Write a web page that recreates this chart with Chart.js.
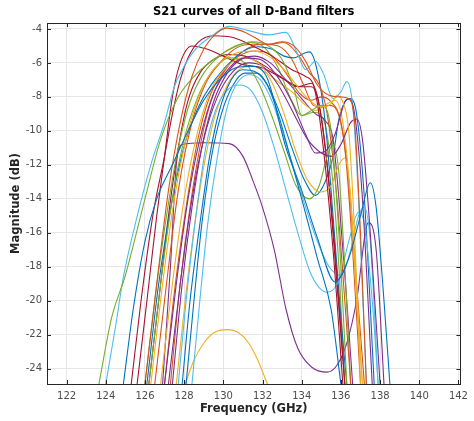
<!DOCTYPE html>
<html>
<head>
<meta charset="utf-8">
<script src="https://cdn.jsdelivr.net/npm/chart.js@4.4.1/dist/chart.umd.min.js"></script>
<style>
  html, body { margin: 0; padding: 0; background: #fff; }
  #wrap { width: 474px; height: 421px; }
</style>
</head>
<body>
<div id="wrap"><canvas id="s21Chart" width="474" height="421"></canvas></div>
<script>
// tick labels
const xTicks = [122, 124, 126, 128, 130, 132, 134, 136, 138, 140, 142];
const yTicks = [-24, -22, -20, -18, -16, -14, -12, -10, -8, -6, -4];

// MATLAB default colour order
const blue = '#0072BD', orange = '#D95319', yellow = '#EDB120', purple = '#7E2F8E',
      green = '#77AC30', lightBlue = '#4DBEEE', darkRed = '#A2142F';

// [frequency GHz, magnitude dB]
const blue1 = [[124.9,-24.9],[125.4,-20.5],[126,-16.5],[126.6,-14],[127.4,-12],[128.2,-10],[129,-8.2],[129.8,-7],[130.6,-6.3],[131.4,-6.2],[132.2,-6.8],[133.2,-11],[134,-13.5],[134.8,-16.3],[135.7,-18.9],[136.4,-17.5],[137,-15],[137.5,-13.05],[137.8,-14.5],[138.2,-20],[138.5,-24.9]];
const orange1 = [[126.0,-24.9],[126.6,-19],[127.2,-13.5],[127.8,-9.5],[128.4,-6.8],[129,-5.2],[129.6,-4.3],[130.2,-3.95],[130.9,-4.1],[131.6,-4.5],[132.3,-4.9],[133,-4.75],[133.6,-5.0],[134.2,-5.9],[134.8,-7.3],[135.4,-7.9],[136,-8.0],[136.4,-8.1],[136.7,-9.5],[137,-16],[137.3,-24.9]];
const yellow1 = [[126.3,-24.9],[126.9,-19],[127.5,-14],[128.2,-10],[129,-7.3],[129.8,-6],[130.7,-5.4],[131.5,-5.3],[132.3,-5.6],[133.1,-6.4],[133.8,-7.4],[134.4,-8.2],[135,-8.6],[135.5,-8.4],[135.8,-7.9],[136.1,-8.3],[136.4,-10],[136.7,-16],[137,-24.9]];
const purple1 = [[127.0,-24.9],[127.6,-19],[128.2,-14],[128.8,-10.5],[129.5,-7.8],[130.3,-6.3],[131.1,-5.7],[131.9,-5.8],[132.7,-6.7],[133.5,-8.3],[134.2,-10.2],[134.7,-11.3],[135.2,-11.2],[135.7,-10.2],[136.2,-8.3],[136.4,-8.1],[136.7,-9],[137.1,-14],[137.6,-24.9]];
const green1 = [[123.65,-24.9],[124.3,-21],[125,-18.5],[126,-14],[126.8,-10.5],[127.7,-8],[128.5,-6.8],[129.5,-5.8],[130.5,-5.1],[131.5,-4.75],[132.3,-5.0],[133,-5.8],[133.6,-7.5],[134,-9.1],[134.5,-8.8],[135,-8.5],[135.5,-10],[136,-18],[136.3,-24.9]];
const lightBlue1 = [[124.0,-24.9],[124.5,-21.5],[124.9,-18.6],[125.5,-15.5],[126.3,-12],[127,-9.5],[127.5,-7.4],[128,-6.2],[128.5,-5.3],[129.3,-4.5],[130.3,-3.85],[131.3,-4.1],[132.3,-4.35],[133.2,-4.2],[133.8,-5.5],[134.2,-6.4],[134.7,-5.9],[135.1,-6.6],[135.6,-8.1],[136,-7.7],[136.3,-7.1],[136.6,-8.5],[136.9,-14],[137.3,-24.9]];
const darkRed1 = [[125.3,-24.9],[125.8,-20],[126.4,-15],[127.0,-11.5],[127.4,-9],[127.8,-7],[128.2,-5.7],[128.7,-4.8],[129.5,-4.4],[130.5,-4.5],[131.5,-5.0],[132.5,-5.6],[133.5,-6.4],[134.2,-6.8],[134.6,-7.3],[135,-10],[135.6,-17],[136.1,-24.9]];
const blue2 = [[127.9,-24.9],[128.3,-20],[128.8,-15.5],[129.3,-11.5],[129.8,-8.8],[130.4,-7],[131,-6.4],[131.6,-6.5],[132.2,-7.2],[132.8,-9],[133.4,-11.5],[134,-14],[134.8,-17.5],[135.5,-20.5],[136,-24.9]];
const orange2 = [[126.5,-24.9],[127.1,-19],[127.7,-13.5],[128.4,-9.5],[129.1,-7.2],[129.9,-5.9],[130.7,-5.1],[131.5,-4.9],[132.3,-4.9],[133.1,-4.8],[133.8,-5.5],[134.4,-6.6],[134.9,-7.3],[135.3,-9],[135.8,-14],[136.2,-20],[136.5,-24.9]];
const yellow2 = [[126.8,-24.9],[127.4,-19],[128.0,-14],[128.7,-10],[129.4,-7.5],[130.2,-6.2],[131,-5.7],[131.8,-6.0],[132.5,-7.2],[133.1,-9],[133.7,-11.2],[134.3,-12.9],[135,-13.6],[135.5,-13.2],[135.9,-12],[136.2,-11.6],[136.5,-14],[136.8,-20],[137.1,-24.9]];
const purple2 = [[127.2,-24.9],[127.8,-19],[128.4,-14],[129,-10.5],[129.7,-8],[130.5,-6.5],[131.3,-6.0],[132,-6.2],[132.8,-7.3],[133.6,-9],[134.3,-10.5],[135,-11.3],[135.5,-11.5],[136,-10.8],[136.5,-9.5],[136.8,-9.3],[137.1,-10.5],[137.5,-16],[138,-24.9]];
const green2 = [[126.2,-24.9],[126.8,-19],[127.4,-14],[128,-10.5],[128.7,-8],[129.5,-6.4],[130.3,-5.7],[131.1,-6.0],[131.8,-7.2],[132.5,-9.2],[133.1,-11.2],[133.7,-13.2],[134.4,-14],[134.9,-13.2],[135.3,-11.5],[135.6,-10.8],[135.9,-12.5],[136.2,-18],[136.5,-24.9]];
const lightBlue2 = [[127.7,-24.9],[128.1,-20],[128.6,-15],[129.1,-11],[129.6,-8.8],[130.2,-7.6],[130.8,-7.3],[131.4,-7.6],[132,-8.9],[132.6,-11],[133.2,-13.5],[133.8,-16],[134.5,-18.5],[135.3,-19.5],[135.9,-18.8],[136.4,-16.5],[136.9,-14.8],[137.2,-15.5],[137.6,-20],[137.9,-24.9]];
const darkRed2 = [[125.6,-24.9],[126.1,-20],[126.6,-15],[127,-11.5],[127.4,-8],[127.8,-6],[128.4,-5.0],[129.2,-5.2],[130,-5.6],[131,-6.1],[132,-6.3],[133,-6.9],[133.9,-7.4],[134.5,-7.4],[134.8,-8],[135.2,-11],[135.7,-17],[136.2,-24.9]];
const blue3 = [[126.1,-24.9],[126.7,-19],[127.4,-14],[128.1,-10.5],[128.9,-8.2],[129.7,-6.8],[130.5,-5.8],[131.2,-5.2],[131.8,-5.05],[132.5,-5.2],[133.1,-5.6],[133.6,-5.7],[134.1,-5.45],[134.4,-5.35],[134.8,-6.5],[135.2,-9.5],[135.6,-15],[136,-21],[136.3,-24.9]];
const orange3 = [[127.3,-24.9],[127.8,-19],[128.3,-14.5],[128.8,-11],[129.3,-8.5],[129.9,-6.8],[130.6,-5.7],[131.3,-5.1],[132,-4.9],[132.8,-5.0],[133.5,-5.8],[134.1,-7.3],[134.6,-8.5],[135,-8.6],[135.4,-8.5],[135.8,-8.8],[136.2,-11],[136.6,-17],[137,-24.9]];
const yellow3 = [[127.6,-24.9],[128.1,-19.5],[128.6,-15],[129.1,-11.5],[129.6,-9],[130.2,-7.3],[130.8,-6.4],[131.5,-6.2],[132.2,-6.6],[132.9,-7.2],[133.6,-7.8],[134.2,-8.5],[134.7,-8.8],[135.3,-8.4],[135.7,-8.2],[136.1,-9.5],[136.5,-14],[136.9,-21],[137.1,-24.9]];
const purple3 = [[127.4,-24.9],[127.9,-19],[128.4,-14.5],[128.9,-11],[129.5,-8.3],[130.2,-6.6],[130.9,-5.8],[131.6,-5.6],[132.4,-6.0],[133.2,-7.0],[134,-8.1],[134.7,-9.0],[135.2,-9.4],[135.6,-10.5],[135.9,-14],[136.3,-20],[136.6,-24.9]];
const green3 = [[126.0,-24.9],[126.5,-20],[127.1,-15],[127.7,-11],[128.3,-8.3],[129,-6.6],[129.8,-5.6],[130.6,-5.0],[131.4,-4.8],[132.1,-5.1],[132.8,-6.3],[133.4,-8],[134,-9.1],[134.6,-8.9],[135.1,-9.3],[135.5,-12],[135.9,-18],[136.2,-24.9]];
const lightBlue3 = [[128.4,-24.9],[128.8,-20],[129.2,-15.5],[129.7,-11.5],[130.2,-8.6],[130.7,-7.2],[131.3,-6.7],[131.9,-7.0],[132.5,-8.3],[133,-10],[133.6,-12.2],[134.2,-14.5],[134.8,-16.5],[135.4,-18],[136,-18.5],[136.5,-17],[136.9,-15],[137.2,-14.5],[137.5,-16.5],[137.9,-24.9]];
const darkRed3 = [[126.2,-24.9],[126.7,-20],[127.2,-15],[127.7,-11],[128.2,-8.2],[128.8,-6.6],[129.5,-5.8],[130.3,-5.5],[131.1,-5.6],[132,-6.1],[132.9,-6.8],[133.8,-7.4],[134.5,-7.2],[134.9,-8.5],[135.3,-12],[135.8,-19],[136.2,-24.9]];
const blue4 = [[128.1,-24.9],[128.5,-20],[128.9,-15.5],[129.4,-11.5],[129.9,-9],[130.5,-7.3],[131.1,-6.6],[131.7,-6.6],[132.3,-7.4],[132.9,-9],[133.5,-11],[134.1,-12.8],[134.7,-13.8],[135.2,-13],[135.6,-11.5],[135.9,-9.3],[136.2,-8.3],[136.5,-8.1],[136.8,-9],[137.2,-14],[137.7,-24.9]];
const orange4 = [[127.0,-24.9],[127.5,-19.5],[128.1,-14.5],[128.7,-10.5],[129.3,-8],[130,-6.5],[130.8,-5.6],[131.6,-5.3],[132.4,-5.5],[133.2,-6.6],[133.9,-7.8],[134.5,-8.2],[135,-8.0],[135.5,-8.3],[136,-9.5],[136.4,-13],[136.8,-19],[137.2,-24.9]];
const purpleDeep = [[126.9,-24.9],[127.3,-18],[127.6,-12],[127.9,-10.8],[129,-10.7],[130.3,-10.75],[131,-11.5],[131.5,-12.9],[132,-14.5],[132.6,-17],[133.2,-20.5],[133.8,-22.8],[134.5,-23.9],[135.3,-24.2],[135.8,-23.8],[136.3,-22.5],[136.8,-20],[137.4,-15.4],[137.8,-17],[138.2,-24.9]];
const yellowArc = [[128.05,-24.9],[128.5,-23.5],[129,-22.5],[129.5,-21.9],[130.2,-21.7],[130.8,-21.9],[131.3,-22.5],[131.8,-23.6],[132.25,-24.9]];

const curves = [
  [blue1, blue], [orange1, orange], [yellow1, yellow], [purple1, purple], [green1, green],
  [lightBlue1, lightBlue], [darkRed1, darkRed], [blue2, blue], [orange2, orange], [yellow2, yellow],
  [purple2, purple], [green2, green], [lightBlue2, lightBlue], [darkRed2, darkRed], [blue3, blue],
  [orange3, orange], [yellow3, yellow], [purple3, purple], [green3, green], [lightBlue3, lightBlue],
  [darkRed3, darkRed], [blue4, blue], [orange4, orange], [purpleDeep, purple], [yellowArc, yellow]
];

const FONT = 'DejaVu Sans';

// MATLAB-style box, inward ticks and texts
const matlabAxes = {
  id: 'matlabAxes',
  afterDraw(chart) {
    const { ctx, chartArea: a, scales: { x, y } } = chart;
    ctx.save();
    ctx.strokeStyle = '#262626';
    ctx.lineWidth = 1;
    ctx.beginPath();
    xTicks.forEach(v => {
      const px = Math.round(x.getPixelForValue(v)) + 0.5;
      ctx.moveTo(px, a.bottom); ctx.lineTo(px, a.bottom - 4);
      ctx.moveTo(px, a.top); ctx.lineTo(px, a.top + 4);
    });
    yTicks.forEach(v => {
      const py = Math.round(y.getPixelForValue(v)) + 0.5;
      ctx.moveTo(a.left, py); ctx.lineTo(a.left + 4, py);
      ctx.moveTo(a.right, py); ctx.lineTo(a.right - 4, py);
    });
    ctx.stroke();
    ctx.strokeRect(Math.round(a.left) + 0.5, Math.round(a.top) + 0.5,
                   Math.round(a.right - a.left), Math.round(a.bottom - a.top));

    ctx.fillStyle = '#000';
    ctx.textAlign = 'center';
    ctx.textBaseline = 'middle';
    ctx.font = 'bold 11.5px ' + FONT;
    ctx.fillText('S21 curves of all D-Band filters', (a.left + a.right) / 2, 12);
    ctx.fillStyle = '#262626';
    ctx.fillText('Frequency (GHz)', (a.left + a.right) / 2, 409);
    ctx.translate(16, (a.top + a.bottom) / 2);
    ctx.rotate(-Math.PI / 2);
    ctx.fillText('Magnitude (dB)', 0, 0);
    ctx.restore();
  }
};

new Chart(document.getElementById('s21Chart').getContext('2d'), {
  type: 'line',
  data: {
    datasets: curves.map(([pts, color]) => ({
      data: pts.map(p => ({ x: p[0], y: p[1] })),
      borderColor: color,
      borderWidth: 1.1,
      pointRadius: 0,
      fill: false,
      cubicInterpolationMode: 'monotone'
    }))
  },
  options: {
    responsive: false,
    animation: false,
    layout: { padding: { top: 23, right: 5, left: 0, bottom: 0 } },
    plugins: { legend: { display: false }, tooltip: { enabled: false } },
    scales: {
      x: {
        type: 'linear', min: 121, max: 142.1,
        afterBuildTicks: s => { s.ticks = xTicks.map(v => ({ value: v })); },
        afterFit: s => { s.height = 37; },
        grid: { color: '#e6e6e6', drawTicks: false },
        border: { display: false },
        ticks: { padding: 6, color: '#4d4d4d', font: { family: FONT, size: 10 }, maxRotation: 0 }
      },
      y: {
        type: 'linear', min: -24.9, max: -3.65,
        afterBuildTicks: s => { s.ticks = yTicks.map(v => ({ value: v })); },
        afterFit: s => { s.width = 47; },
        grid: { color: '#e6e6e6', drawTicks: false },
        border: { display: false },
        ticks: { padding: 5, color: '#4d4d4d', font: { family: FONT, size: 10 } }
      }
    }
  },
  plugins: [matlabAxes]
});
</script>
</body>
</html>
